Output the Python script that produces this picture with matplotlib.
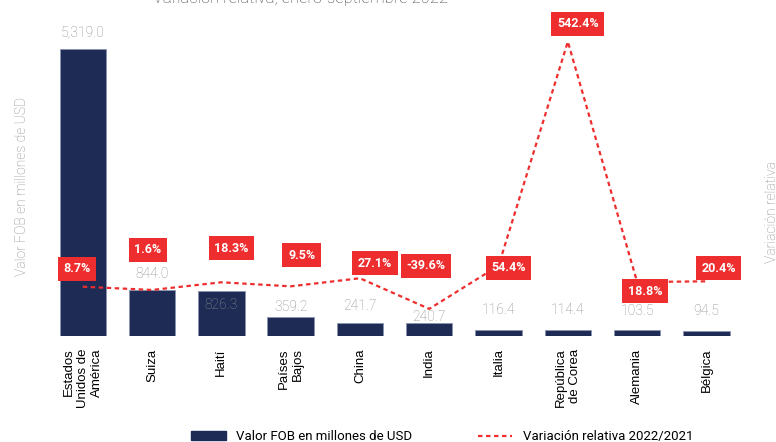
import matplotlib
matplotlib.use("Agg")
import matplotlib.pyplot as plt
from matplotlib.patches import Patch
from matplotlib.lines import Line2D

plt.rcParams['font.family'] = ['Roboto', 'DejaVu Sans']

# data
paises = ["Estados\nUnidos de\nAmérica", "Suiza", "Haití", "Países\nBajos", "China",
          "India", "Italia", "República\nde Corea", "Alemania", "Bélgica"]
valor_fob = [5319.0, 844.0, 826.3, 359.2, 241.7, 240.7, 116.4, 114.4, 103.5, 94.5]
variacion = [8.7, 1.6, 18.3, 9.5, 27.1, -39.6, 54.4, 542.4, 18.8, 20.4]

# label offsets in pixels (dx, dy) for the red boxes
box_off = [(-6, 18), (-4, 40), (10, 34), (11, 31), (15, 15),
           (-3, 43), (10, -2), (10, 18), (8, -9), (12, 13)]
# value label offsets (points above bar top)
val_off = [12, 12, -10, 7, 12, 4, 14, 14, 14, 14]

navy = "#1e2b55"
red = "#ee2e2e"
grey = "#8c8c8c"

fig = plt.figure(figsize=(7.76, 4.42), dpi=100)
ax = fig.add_axes([0.062, 0.240, 0.893, 0.731])
x = list(range(len(paises)))
bars = ax.bar(x, valor_fob, width=0.67, color=navy, edgecolor="#8a95b0", linewidth=0.6)
ax.set_xlim(-0.5, len(paises) - 0.5)
ax.set_ylim(0, 6000)

for xi, v, off in zip(x, valor_fob, val_off):
    ax.annotate(f"{v:,.1f}", (xi, v), xytext=(0, off), textcoords="offset points",
                ha="center", va="center", fontsize=10, color=grey, fontweight="light")

ax.set_xticks(x)
ax.set_xticklabels(paises, rotation=90, ha="center", va="top", multialignment="right",
                   fontsize=9.5, linespacing=1.25, family=["Liberation Sans", "DejaVu Sans"])
ax.tick_params(axis="x", length=0, pad=9)
ax.set_yticks([])
for s in ax.spines.values():
    s.set_visible(False)

ax2 = ax.twinx()
ax2.plot(x, variacion, color=red, linestyle=(0, (2, 1.6)), linewidth=1.6)
ax2.set_ylim(-98.5, 605.2)
ax2.set_yticks([])
for s in ax2.spines.values():
    s.set_visible(False)

for xi, v, (dx, dy) in zip(x, variacion, box_off):
    ax2.annotate(f"{v:.1f}%", (xi, v), xytext=(dx * 0.72, dy * 0.72), textcoords="offset points",
                 ha="center", va="center", fontsize=9, color="white", fontweight="bold",
                 bbox=dict(boxstyle="square,pad=0.45", fc=red, ec="none"))

fig.text(0.028, 0.577, "Valor FOB en millones de USD", rotation=90, ha="center", va="center",
         fontsize=10, color=grey, fontweight="light")
fig.text(0.995, 0.52, "Variación relativa", rotation=90, ha="center", va="center",
         fontsize=10, color=grey, fontweight="light")
fig.text(0.387, 1.003, "Variación relativa, enero-septiembre 2022", ha="center", va="center",
         fontsize=12, color="#444444", fontweight="light")

handles = [Patch(color=navy, label="Valor FOB en millones de USD"),
           Line2D([0], [0], color=red, linestyle=(0, (2, 1.6)), linewidth=1.6,
                  label="Variación relativa 2022/2021")]
fig.legend(handles=handles, loc="center", bbox_to_anchor=(0.57, 0.012), ncol=2, frameon=False,
           fontsize=9.5, handlelength=2.6, handleheight=0.6, columnspacing=5)

fig.savefig("out.png", dpi=100)
